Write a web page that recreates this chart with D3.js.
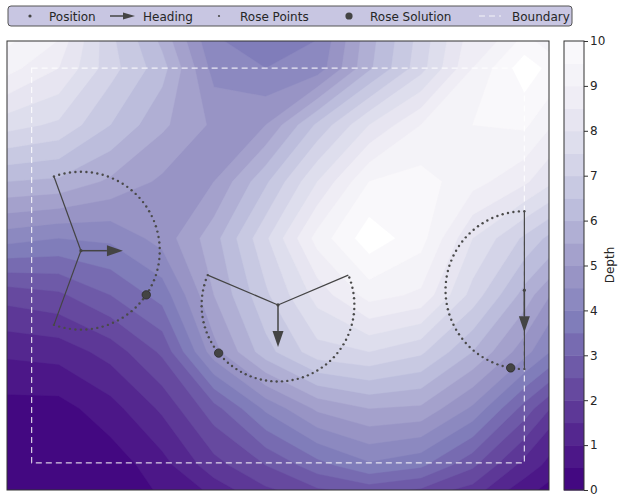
<!DOCTYPE html>
<html>
<head>
<meta charset="utf-8">
<style>
  body { margin: 0; background: #fff; }
  svg text { font-family: "DejaVu Sans", sans-serif; fill: #262626; }
</style>
</head>
<body>
<svg id="chart" width="623" height="502"></svg>
<script src="https://d3js.org/d3.v7.min.js"></script>
<script>
// depth samples, on a regular grid (data units)
const gridX = [-5, 5.5, 16, 26.5, 37, 47.5, 58, 68.5, 79, 89.5, 100, 110.5];
const gridY = [91.5, 80, 68.5, 57, 45.5, 34, 22.5, 11, -0.5, -12];
const depth = [
  [10.0, 9.5, 7.0, 5.5, 3.8, 3.5, 3.8, 5.7, 7.1, 8.6, 9.0, 9.7],
  [ 9.2, 8.5, 7.2, 6.2, 4.3, 4.0, 4.2, 5.9, 7.3, 9.0, 10.3, 9.4],
  [ 7.7, 7.4, 6.5, 5.6, 4.9, 5.0, 6.6, 8.0, 9.0, 9.5, 9.6, 8.5],
  [ 6.0, 5.9, 5.4, 4.9, 5.0, 6.4, 8.0, 9.5, 9.7, 9.2, 8.6, 7.6],
  [ 4.2, 4.0, 4.1, 4.7, 5.8, 7.4, 9.2, 10.3, 9.7, 8.0, 6.9, 5.8],
  [ 2.2, 2.4, 3.0, 3.7, 5.5, 6.9, 8.2, 9.2, 8.9, 7.3, 5.8, 4.2],
  [ 1.1, 1.2, 1.7, 2.6, 4.8, 6.3, 7.3, 7.5, 7.1, 6.0, 4.7, 3.3],
  [ 0.3, 0.3, 0.8, 1.6, 2.8, 4.1, 5.1, 5.5, 5.4, 4.4, 2.8, 1.2],
  [ 0.0, 0.05, 0.2, 0.8, 1.8, 2.5, 3.3, 3.9, 3.6, 2.6, 1.3, 0.4],
  [ 0.0, 0.0, 0.0, 0.35, 0.45, 1.15, 1.3, 1.2, 0.9, 0.8, 0.0, 0.0]
];

const levels = d3.range(0, 10.01, 0.5);
const cbarTicks = [0, 1, 2, 3, 4, 5, 6, 7, 8, 9, 10];

const boundaryMin = [0, 0];
const boundaryMax = [100, 80];

// roses: position, heading (deg), arc span relative to heading, radius, solution angle
const rosePos = [[10, 43], [50, 32], [100, 35]];
const roseHeading = [0, -90, -90];
const roseArc = [[-110, 110], [-113, 113], [-180, 0]];
const roseRadius = [16, 15.5, 16];
const roseSolution = [-34, -141, -100];
const roseStep = 4;

const legendLabels = ['Position', 'Heading', 'Rose Points', 'Rose Solution', 'Boundary'];

const purples = d3.scaleLinear()
  .domain(d3.range(9).map(i => i / 8))
  .range(['#fcfbfd', '#efedf5', '#dadaeb', '#bcbddc', '#9e9ac8', '#807dba', '#6a51a3', '#54278f', '#3f007d']);
const bandColor = t => purples(1 - (t + 0.25) / 10);

const svg = d3.select('#chart');
const x = d3.scaleLinear().domain([-5, 105]).range([7, 549]);
const y = d3.scaleLinear().domain([-5.5, 85.5]).range([490, 41]);

svg.append('clipPath').attr('id', 'plotclip')
  .append('rect').attr('x', 7).attr('y', 41).attr('width', 542).attr('height', 449);

const plot = svg.append('g').attr('clip-path', 'url(#plotclip)');

// filled contours
const n = gridX.length, m = gridY.length;
const dx = gridX[1] - gridX[0], dy = gridY[1] - gridY[0];
const contours = d3.contours().size([n, m]).thresholds(levels)(depth.flat());
const proj = d3.geoTransform({
  point(px, py) { this.stream.point(x(gridX[0] + (px - 0.5) * dx), y(gridY[0] + (py - 0.5) * dy)); }
});
const path = d3.geoPath(proj);

plot.selectAll('path.band')
  .data(contours)
  .join('path')
    .attr('class', 'band')
    .attr('d', path)
    .attr('fill', d => d.value >= 10 ? '#ffffff' : bandColor(d.value))
    .attr('stroke', d => d.value >= 10 ? '#ffffff' : bandColor(d.value))
    .attr('stroke-width', 0.4);

// boundary
plot.append('rect')
  .attr('x', x(boundaryMin[0])).attr('y', y(boundaryMax[1]))
  .attr('width', x(boundaryMax[0]) - x(boundaryMin[0]))
  .attr('height', y(boundaryMin[1]) - y(boundaryMax[1]))
  .attr('fill', 'none')
  .attr('stroke', '#ffffff')
  .attr('stroke-opacity', 0.8)
  .attr('stroke-width', 1.2)
  .attr('stroke-dasharray', '6,4');

const rad = a => a * Math.PI / 180;
const onCircle = (p, r, a) => [x(p[0] + r * Math.cos(rad(a))), y(p[1] + r * Math.sin(rad(a)))];

rosePos.forEach((p, i) => {
  const g = plot.append('g');
  const h = roseHeading[i], r = roseRadius[i];
  const a0 = h + roseArc[i][0], a1 = h + roseArc[i][1];
  const c = [x(p[0]), y(p[1])];

  // rays to the ends of the arc
  [a0, a1].forEach(a => {
    const e = onCircle(p, r, a);
    g.append('line')
      .attr('x1', c[0]).attr('y1', c[1]).attr('x2', e[0]).attr('y2', e[1])
      .attr('stroke', '#444').attr('stroke-width', 1.2);
  });

  // rose points
  const angles = d3.range(a0, a1 + 0.01, roseStep);
  g.selectAll('circle.rp')
    .data(angles)
    .join('circle')
      .attr('class', 'rp')
      .attr('cx', a => onCircle(p, r, a)[0])
      .attr('cy', a => onCircle(p, r, a)[1])
      .attr('r', 1.2)
      .attr('fill', '#4a4a4a');

  // heading arrow
  const len = 42, headLen = 16, headW = 5.5;
  const ux = Math.cos(rad(h)), uy = -Math.sin(rad(h));
  const tip = [c[0] + ux * len, c[1] + uy * len];
  const base = [tip[0] - ux * headLen, tip[1] - uy * headLen];
  g.append('line')
    .attr('x1', c[0]).attr('y1', c[1]).attr('x2', base[0]).attr('y2', base[1])
    .attr('stroke', '#444').attr('stroke-width', 1.5);
  g.append('path')
    .attr('d', d3.line()([tip, [base[0] - uy * headW, base[1] + ux * headW], [base[0] + uy * headW, base[1] - ux * headW]]) + 'Z')
    .attr('fill', '#444');

  // position
  g.append('circle').attr('cx', c[0]).attr('cy', c[1]).attr('r', 1.6).attr('fill', '#444');

  // solution
  const s = onCircle(p, r, roseSolution[i]);
  g.append('circle').attr('cx', s[0]).attr('cy', s[1]).attr('r', 4.2)
    .attr('fill', '#444').attr('stroke', '#2a2a2a').attr('stroke-width', 0.8);
});

// frame
svg.append('rect').attr('x', 7).attr('y', 41).attr('width', 542).attr('height', 449)
  .attr('fill', 'none').attr('stroke', '#333').attr('stroke-width', 1);

// colorbar
const cy = d3.scaleLinear().domain([0, 10]).range([490, 41]);
const cbar = svg.append('g');
cbar.selectAll('rect.cb')
  .data(levels.slice(0, -1))
  .join('rect')
    .attr('class', 'cb')
    .attr('x', 564).attr('width', 20)
    .attr('y', d => cy(d + 0.5)).attr('height', d => cy(d) - cy(d + 0.5) + 0.5)
    .attr('fill', d => bandColor(d));
cbar.append('rect').attr('x', 564).attr('y', 41).attr('width', 20).attr('height', 449)
  .attr('fill', 'none').attr('stroke', '#333');
const axis = d3.axisRight(cy).tickValues(cbarTicks).tickSize(4).tickPadding(2).tickFormat(d3.format('d'));
const axg = cbar.append('g').attr('transform', 'translate(584,0)').call(axis);
axg.select('.domain').remove();
axg.selectAll('text').attr('font-size', 12).style('font-family', '"DejaVu Sans", sans-serif').attr('fill', '#262626');
axg.selectAll('line').attr('stroke', '#333');

svg.append('text')
  .attr('transform', 'translate(614,265) rotate(-90)')
  .attr('text-anchor', 'middle')
  .attr('font-size', 12)
  .text('Depth');

// legend
const lg = svg.append('g');
lg.append('rect').attr('x', 8).attr('y', 6).attr('width', 564).attr('height', 20).attr('rx', 3)
  .attr('fill', '#c8c6e2').attr('stroke', '#555').attr('stroke-width', 1);
const textX = [49, 143, 240, 370, 512];
lg.selectAll('text')
  .data(legendLabels)
  .join('text')
    .attr('x', (d, i) => textX[i]).attr('y', 20.5)
    .attr('font-size', 12)
    .text(d => d);
lg.append('circle').attr('cx', 30).attr('cy', 16).attr('r', 1.6).attr('fill', '#444');
lg.append('line').attr('x1', 110).attr('y1', 16).attr('x2', 125).attr('y2', 16).attr('stroke', '#444').attr('stroke-width', 1.5);
lg.append('path').attr('d', d3.line()([[135, 16], [123, 12.5], [123, 19.5]]) + 'Z').attr('fill', '#444');
lg.append('circle').attr('cx', 219).attr('cy', 16).attr('r', 1.1).attr('fill', '#4a4a4a');
lg.append('circle').attr('cx', 349).attr('cy', 16).attr('r', 3.6).attr('fill', '#444');
lg.append('line').attr('x1', 479).attr('y1', 16).attr('x2', 501).attr('y2', 16)
  .attr('stroke', '#fff').attr('stroke-opacity', 0.8).attr('stroke-width', 1.2).attr('stroke-dasharray', '6,4');
</script>
</body>
</html>
